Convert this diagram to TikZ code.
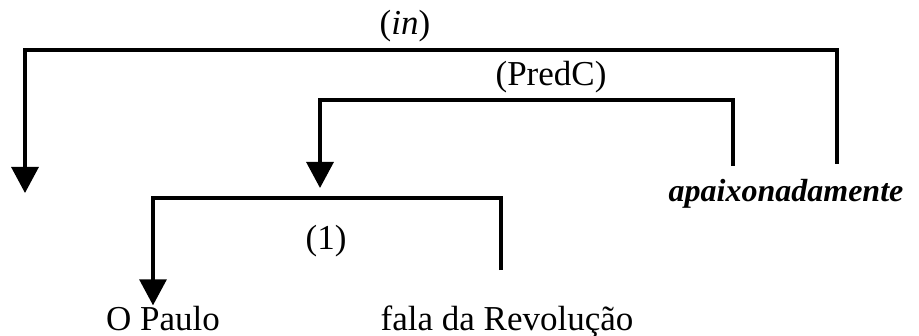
\documentclass[tikz,border=0pt]{standalone}
\usepackage{fontspec}
\setmainfont{Liberation Serif}
\usetikzlibrary{arrows.meta}

\begin{document}
\begin{tikzpicture}[x=0.5pt, y=-0.5pt, >={Triangle[length=13pt, width=13.5pt]},
        bracket/.style={line width=1.6pt},
        word/.style={anchor=base, inner sep=0pt, font=\fontsize{17.5}{21}\selectfont}]
      \useasboundingbox (0,0) rectangle (919,336);
      % words
      \node[word] (paulo) at (163,330) {O Paulo};
      \node[word] (fala) at (507,330) {fala da Revolução};
      \node[word, font=\fontsize{16}{19}\selectfont] (apaix) at (786,201) {\textbf{\textit{apaixonadamente}}};
      % relation labels
      \node[word] (one) at (326,249) {(1)};
      \node[word] (predc) at (551,86) {(PredC)};
      \node[word] (in) at (405,35) {(\textit{in})};
      % bracket corners
      \coordinate (falaTop) at (501,270);
      \coordinate (oneBar) at (153,198);
      \coordinate (apaixL) at (733,166);
      \coordinate (predBar) at (320,100);
      \coordinate (predTip) at (320,188);
      \coordinate (apaixR) at (837,164);
      \coordinate (inBar) at (25,50);
      \coordinate (inTip) at (25,193);
      \draw[bracket, ->] (falaTop) |- (oneBar) -- (oneBar |- paulo.north);
      \draw[bracket, ->] (apaixL) |- (predBar) -- (predTip);
      \draw[bracket, ->] (apaixR) |- (inBar) -- (inTip);
    \end{tikzpicture}
\end{document}
